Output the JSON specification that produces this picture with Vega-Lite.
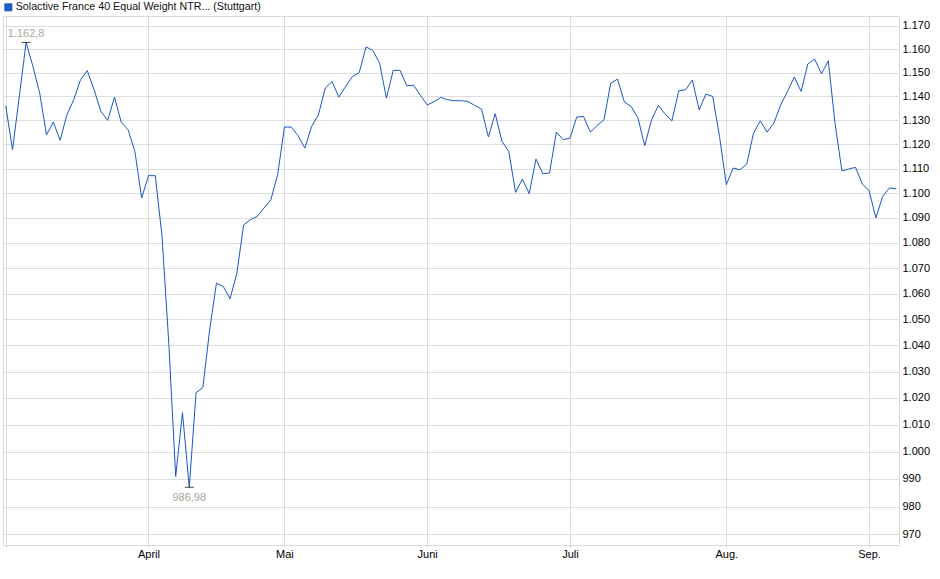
{
  "$schema": "https://vega.github.io/schema/vega-lite/v6.json",
  "autosize": {"type": "none"},
  "padding": {"left": 3, "top": 16, "right": 41, "bottom": 34},
  "width": 896,
  "height": 529,
  "background": "#ffffff",
  "config": {
    "font": "Liberation Sans",
    "view": {"stroke": "#d9d9d9", "strokeWidth": 1}
  },
  "datasets": {
    "prices": [
      {"date": "2025-03-03", "value": 1136.0},
      {"date": "2025-03-04", "value": 1117.7},
      {"date": "2025-03-05", "value": 1140.0},
      {"date": "2025-03-06", "value": 1162.8},
      {"date": "2025-03-07", "value": 1152.6},
      {"date": "2025-03-10", "value": 1141.3},
      {"date": "2025-03-11", "value": 1123.9},
      {"date": "2025-03-12", "value": 1129.2},
      {"date": "2025-03-13", "value": 1121.6},
      {"date": "2025-03-14", "value": 1132.2},
      {"date": "2025-03-17", "value": 1138.5},
      {"date": "2025-03-18", "value": 1146.9},
      {"date": "2025-03-19", "value": 1150.8},
      {"date": "2025-03-20", "value": 1142.7},
      {"date": "2025-03-21", "value": 1133.6},
      {"date": "2025-03-24", "value": 1129.9},
      {"date": "2025-03-25", "value": 1139.6},
      {"date": "2025-03-26", "value": 1129.0},
      {"date": "2025-03-27", "value": 1126.0},
      {"date": "2025-03-28", "value": 1117.0},
      {"date": "2025-03-31", "value": 1098.0},
      {"date": "2025-04-01", "value": 1107.1},
      {"date": "2025-04-02", "value": 1107.1},
      {"date": "2025-04-03", "value": 1082.5},
      {"date": "2025-04-04", "value": 1040.2},
      {"date": "2025-04-07", "value": 990.9},
      {"date": "2025-04-08", "value": 1014.5},
      {"date": "2025-04-09", "value": 986.98},
      {"date": "2025-04-10", "value": 1022.0},
      {"date": "2025-04-11", "value": 1023.9},
      {"date": "2025-04-14", "value": 1046.0},
      {"date": "2025-04-15", "value": 1064.1},
      {"date": "2025-04-16", "value": 1062.8},
      {"date": "2025-04-17", "value": 1058.0},
      {"date": "2025-04-22", "value": 1068.0},
      {"date": "2025-04-23", "value": 1087.2},
      {"date": "2025-04-24", "value": 1089.3},
      {"date": "2025-04-25", "value": 1090.6},
      {"date": "2025-04-28", "value": 1094.0},
      {"date": "2025-04-29", "value": 1097.3},
      {"date": "2025-04-30", "value": 1107.5},
      {"date": "2025-05-02", "value": 1127.1},
      {"date": "2025-05-05", "value": 1127.1},
      {"date": "2025-05-06", "value": 1123.5},
      {"date": "2025-05-07", "value": 1118.4},
      {"date": "2025-05-08", "value": 1127.4},
      {"date": "2025-05-09", "value": 1132.2},
      {"date": "2025-05-12", "value": 1143.4},
      {"date": "2025-05-13", "value": 1146.2},
      {"date": "2025-05-14", "value": 1139.6},
      {"date": "2025-05-15", "value": 1144.1},
      {"date": "2025-05-16", "value": 1148.3},
      {"date": "2025-05-19", "value": 1150.0},
      {"date": "2025-05-20", "value": 1160.9},
      {"date": "2025-05-21", "value": 1159.4},
      {"date": "2025-05-22", "value": 1154.0},
      {"date": "2025-05-23", "value": 1139.2},
      {"date": "2025-05-26", "value": 1150.9},
      {"date": "2025-05-27", "value": 1150.9},
      {"date": "2025-05-28", "value": 1144.4},
      {"date": "2025-05-29", "value": 1144.6},
      {"date": "2025-05-30", "value": 1140.4},
      {"date": "2025-06-02", "value": 1136.3},
      {"date": "2025-06-03", "value": 1137.7},
      {"date": "2025-06-04", "value": 1139.5},
      {"date": "2025-06-05", "value": 1138.5},
      {"date": "2025-06-06", "value": 1138.1},
      {"date": "2025-06-09", "value": 1138.1},
      {"date": "2025-06-10", "value": 1137.8},
      {"date": "2025-06-11", "value": 1136.1},
      {"date": "2025-06-12", "value": 1134.6},
      {"date": "2025-06-13", "value": 1123.0},
      {"date": "2025-06-16", "value": 1132.7},
      {"date": "2025-06-17", "value": 1121.2},
      {"date": "2025-06-18", "value": 1117.0},
      {"date": "2025-06-19", "value": 1100.3},
      {"date": "2025-06-20", "value": 1105.7},
      {"date": "2025-06-23", "value": 1099.8},
      {"date": "2025-06-24", "value": 1113.9},
      {"date": "2025-06-25", "value": 1107.9},
      {"date": "2025-06-26", "value": 1108.2},
      {"date": "2025-06-27", "value": 1125.0},
      {"date": "2025-06-30", "value": 1121.9},
      {"date": "2025-07-01", "value": 1122.5},
      {"date": "2025-07-02", "value": 1131.3},
      {"date": "2025-07-03", "value": 1131.5},
      {"date": "2025-07-04", "value": 1125.0},
      {"date": "2025-07-07", "value": 1127.8},
      {"date": "2025-07-08", "value": 1130.1},
      {"date": "2025-07-09", "value": 1145.5},
      {"date": "2025-07-10", "value": 1147.2},
      {"date": "2025-07-11", "value": 1137.6},
      {"date": "2025-07-14", "value": 1135.7},
      {"date": "2025-07-15", "value": 1130.9},
      {"date": "2025-07-16", "value": 1119.4},
      {"date": "2025-07-17", "value": 1130.1},
      {"date": "2025-07-18", "value": 1136.1},
      {"date": "2025-07-21", "value": 1132.5},
      {"date": "2025-07-22", "value": 1129.7},
      {"date": "2025-07-23", "value": 1142.3},
      {"date": "2025-07-24", "value": 1142.7},
      {"date": "2025-07-25", "value": 1146.8},
      {"date": "2025-07-28", "value": 1134.3},
      {"date": "2025-07-29", "value": 1140.9},
      {"date": "2025-07-30", "value": 1139.9},
      {"date": "2025-07-31", "value": 1123.2},
      {"date": "2025-08-01", "value": 1103.4},
      {"date": "2025-08-04", "value": 1110.2},
      {"date": "2025-08-05", "value": 1109.5},
      {"date": "2025-08-06", "value": 1111.8},
      {"date": "2025-08-07", "value": 1124.6},
      {"date": "2025-08-08", "value": 1129.7},
      {"date": "2025-08-11", "value": 1125.0},
      {"date": "2025-08-12", "value": 1128.8},
      {"date": "2025-08-13", "value": 1136.4},
      {"date": "2025-08-14", "value": 1142.0},
      {"date": "2025-08-15", "value": 1148.1},
      {"date": "2025-08-18", "value": 1142.0},
      {"date": "2025-08-19", "value": 1153.7},
      {"date": "2025-08-20", "value": 1155.7},
      {"date": "2025-08-21", "value": 1149.4},
      {"date": "2025-08-22", "value": 1155.0},
      {"date": "2025-08-25", "value": 1128.4},
      {"date": "2025-08-26", "value": 1109.1},
      {"date": "2025-08-27", "value": 1109.8},
      {"date": "2025-08-28", "value": 1110.5},
      {"date": "2025-08-29", "value": 1103.7},
      {"date": "2025-09-01", "value": 1101.0},
      {"date": "2025-09-02", "value": 1090.0},
      {"date": "2025-09-03", "value": 1098.7},
      {"date": "2025-09-04", "value": 1102.1},
      {"date": "2025-09-05", "value": 1101.7}
    ],
    "extremes": [
      {"date": "2025-03-06", "value": 1162.8, "label": "1.162,8", "kind": "high"},
      {"date": "2025-04-09", "value": 986.98, "label": "986,98", "kind": "low"}
    ]
  },
  "encoding": {
    "x": {
      "field": "date",
      "type": "ordinal",
      "scale": {"type": "point", "padding": 0.4},
      "axis": {
        "title": null,
        "values": ["2025-03-03", "2025-04-01", "2025-05-02", "2025-06-02", "2025-07-01", "2025-08-01", "2025-09-01"],
        "labelExpr": "{'2025-03-03': '', '2025-04-01': 'April', '2025-05-02': 'Mai', '2025-06-02': 'Juni', '2025-07-01': 'Juli', '2025-08-01': 'Aug.', '2025-09-01': 'Sep.'}[datum.value]",
        "labelAngle": 0,
        "labelFontSize": 11,
        "labelColor": "#000000",
        "labelPadding": 1,
        "tickSize": 2,
        "tickColor": "#cccccc",
        "domain": false,
        "grid": true,
        "gridColor": "#dddddd",
        "gridWidth": 1
      }
    },
    "y": {
      "field": "value",
      "type": "quantitative",
      "scale": {"type": "log", "domain": [966.2, 1174.2], "nice": false, "zero": false},
      "axis": {
        "title": null,
        "orient": "right",
        "values": [970, 980, 990, 1000, 1010, 1020, 1030, 1040, 1050, 1060, 1070, 1080, 1090, 1100, 1110, 1120, 1130, 1140, 1150, 1160, 1170],
        "labelExpr": "replace(format(datum.value, ',d'), ',', '.')",
        "labelFontSize": 11,
        "labelColor": "#000000",
        "labelPadding": 3,
        "ticks": false,
        "domain": false,
        "grid": true,
        "gridColor": "#dddddd",
        "gridWidth": 1
      }
    }
  },
  "layer": [
    {
      "data": {"name": "prices"},
      "mark": {"type": "line", "strokeWidth": 1, "interpolate": "linear"},
      "encoding": {
        "color": {
          "datum": "Solactive France 40 Equal Weight NTR... (Stuttgart)",
          "type": "nominal",
          "scale": {"range": ["#1a58c4"]},
          "legend": {
            "title": null,
            "orient": "none",
            "legendX": 0,
            "legendY": -14,
            "padding": 0,
            "symbolType": "square",
            "symbolSize": 49,
            "symbolOffset": 0,
            "labelOffset": 2,
            "labelFontSize": 10.7,
            "labelColor": "#111111",
            "labelLimit": 400,
            "encode": {
              "symbols": {
                "update": {
                  "fill": {"value": "#1c5cc6"},
                  "stroke": {"value": "#163c85"},
                  "strokeWidth": {"value": 1}
                }
              }
            }
          }
        }
      }
    },
    {
      "data": {"name": "extremes"},
      "mark": {"type": "tick", "color": "#000000", "thickness": 1, "size": 9, "orient": "horizontal"}
    },
    {
      "data": {"name": "extremes"},
      "transform": [{"filter": "datum.kind === 'high'"}],
      "mark": {"type": "text", "baseline": "alphabetic", "align": "center", "dy": -5.5, "fontSize": 11, "color": "#aca49b"},
      "encoding": {"text": {"field": "label"}}
    },
    {
      "data": {"name": "extremes"},
      "transform": [{"filter": "datum.kind === 'low'"}],
      "mark": {"type": "text", "baseline": "top", "align": "center", "dy": 5, "fontSize": 11, "color": "#aca49b"},
      "encoding": {"text": {"field": "label"}}
    }
  ]
}
